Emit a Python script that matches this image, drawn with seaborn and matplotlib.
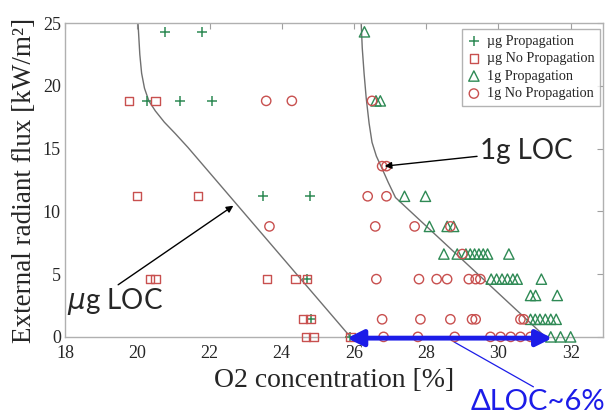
import matplotlib
matplotlib.use("Agg")
import matplotlib.pyplot as plt
import seaborn as sns

# --- data ---
# ug Propagation (+)
ug_prop_x = [20.77, 21.79, 20.28, 21.17, 22.08, 23.47, 24.79, 24.7, 24.8, 25.9]
ug_prop_y = [24.3, 24.3, 18.8, 18.8, 18.8, 11.2, 11.2, 4.6, 1.4, 0]

# ug No Propagation (squares)
ug_noprop_x = [19.77, 20.5, 19.99, 21.68, 20.35, 20.5, 23.59, 24.38, 24.7,
               24.59, 24.8, 24.68, 24.88, 25.9]
ug_noprop_y = [18.8, 18.8, 11.2, 11.2, 4.6, 4.6, 4.6, 4.6, 4.6,
               1.4, 1.4, 0, 0, 0]

# 1g Propagation (triangles)
g_prop_x = [26.29, 26.61, 26.73, 27.4, 27.98, 28.09, 28.58, 28.76,
            28.49, 28.86, 29.1, 29.22, 29.34, 29.46, 29.58, 29.7, 30.29,
            29.8, 29.95, 30.1, 30.25, 30.4, 30.52, 31.19,
            30.89, 31.03, 31.63,
            30.89, 31.02, 31.15, 31.3, 31.45, 31.6,
            31.45, 31.72, 32.0]
g_prop_y = [24.3, 18.8, 18.8, 11.2, 11.2, 8.8, 8.8, 8.8,
            6.6, 6.6, 6.6, 6.6, 6.6, 6.6, 6.6, 6.6, 6.6,
            4.6, 4.6, 4.6, 4.6, 4.6, 4.6, 4.6,
            3.3, 3.3, 3.3,
            1.4, 1.4, 1.4, 1.4, 1.4, 1.4,
            0, 0, 0]

# 1g No Propagation (circles)
g_noprop_x = [23.57, 24.28, 26.5, 26.78, 26.9, 26.38, 26.9,
              23.66, 26.59, 27.68, 28.67, 29.0,
              26.62, 27.8, 28.29, 28.58, 29.18, 29.37, 29.5,
              26.78, 27.84, 28.67, 29.27, 29.37, 30.61, 30.7,
              26.82, 27.77, 28.79, 29.78, 30.06, 30.34, 30.61, 30.89]
g_noprop_y = [18.8, 18.8, 18.8, 13.6, 13.6, 11.2, 11.2,
              8.8, 8.8, 8.8, 8.8, 6.6,
              4.6, 4.6, 4.6, 4.6, 4.6, 4.6, 4.6,
              1.4, 1.4, 1.4, 1.4, 1.4, 1.4, 1.4,
              0, 0, 0, 0, 0, 0, 0, 0]

# LOC boundary curves
ug_loc_x = [20.02, 20.04, 20.07, 20.12, 20.2, 20.32, 20.5, 20.75, 21.05, 21.4, 25.9]
ug_loc_y = [25, 24, 22.5, 21, 19.8, 18.8, 18.0, 17.1, 16.2, 15.1, 0]
g_loc_x = [26.2, 26.23, 26.28, 26.34, 26.42, 26.5, 26.62, 26.78, 26.95, 27.15, 31.3]
g_loc_y = [25, 23, 21, 19, 17, 15.5, 14.4, 13.4, 12.3, 11.1, 0]

green = "#2f8a55"
red = "#c8504f"
blue = "#1c1ce8"

sns.set_style("white")
plt.rcParams["font.family"] = ["Liberation Serif", "DejaVu Serif"]

fig = plt.figure(figsize=(6.08, 4.19), dpi=100)
ax = fig.add_axes([0.107, 0.196, 0.885, 0.749])

sns.lineplot(x=ug_loc_x, y=ug_loc_y, sort=False, estimator=None,
             color="#707070", lw=1, ax=ax)
sns.lineplot(x=g_loc_x, y=g_loc_y, sort=False, estimator=None,
             color="#707070", lw=1, ax=ax)

sns.scatterplot(x=ug_prop_x, y=ug_prop_y, marker="+", s=55, color=green,
                linewidth=1.1, label="\u00b5g Propagation", ax=ax, clip_on=False, zorder=3)
sns.scatterplot(x=ug_noprop_x, y=ug_noprop_y, marker="s", s=36, facecolor="none",
                edgecolor=red, linewidth=1, label="\u00b5g No Propagation", ax=ax,
                clip_on=False, zorder=3)
sns.scatterplot(x=g_prop_x, y=g_prop_y, marker="^", s=55, facecolor="none",
                edgecolor=green, linewidth=1, label="1g Propagation", ax=ax,
                clip_on=False, zorder=3)
sns.scatterplot(x=g_noprop_x, y=g_noprop_y, marker="o", s=45, facecolor="none",
                edgecolor=red, linewidth=1, label="1g No Propagation", ax=ax,
                clip_on=False, zorder=3)

ax.set_xlim(18, 32.9)
ax.set_ylim(0, 25)
ax.set_xticks(range(18, 33, 2))
ax.set_yticks(range(0, 26, 5))
ax.tick_params(direction="in", top=True, right=True, length=4, width=0.8,
               color="#a0a0a0", labelsize=13)
ax.tick_params(axis="x", pad=6)
ax.tick_params(axis="y", pad=3)
for sp in ax.spines.values():
    sp.set_color("#b0b0b0")
    sp.set_linewidth(1)

ax.set_xlabel("O2 concentration [%]", fontsize=20, labelpad=4)
ax.set_ylabel("External radiant flux [kW/m\u00b2]", fontsize=19.5, labelpad=4)

leg = ax.legend(loc="upper right", bbox_to_anchor=(0.994, 0.981), fontsize=10.2,
                frameon=True, fancybox=False, edgecolor="#a0a0a0",
                handlelength=0.9, handletextpad=0.45, labelspacing=0.32,
                borderpad=0.4, borderaxespad=0)
leg.get_frame().set_linewidth(1)

# annotations
sans = ["Lato", "DejaVu Sans"]
ax.annotate("1g LOC", xy=(26.85, 13.6), xytext=(29.5, 14.8), fontsize=20,
            family=sans, va="center", ha="left",
            arrowprops=dict(arrowstyle="-|>", color="black", lw=1, mutation_scale=10,
                            shrinkA=0, shrinkB=0))
ax.annotate("", xy=(22.66, 10.45), xytext=(19.47, 4.15),
            arrowprops=dict(arrowstyle="-|>", color="black", lw=1, mutation_scale=10,
                            shrinkA=0, shrinkB=0))
ax.text(18.05, 2.8, "$\\mu$g LOC", fontsize=20, family=sans,
        va="center", ha="left")

ax.annotate("", xy=(25.81, -0.1), xytext=(31.49, -0.1), annotation_clip=False,
            arrowprops=dict(arrowstyle="<|-|>", color=blue, lw=3.5, mutation_scale=24,
                            shrinkA=0, shrinkB=0), zorder=5)
ax.plot([28.77, 30.97], [-0.4, -3.98], color=blue, lw=0.9, clip_on=False)
ax.text(29.23, -5.2, "\u0394LOC~6%", fontsize=21, family=sans,
        color=blue, va="center", ha="left", clip_on=False)

fig.savefig("out.png", dpi=100)
